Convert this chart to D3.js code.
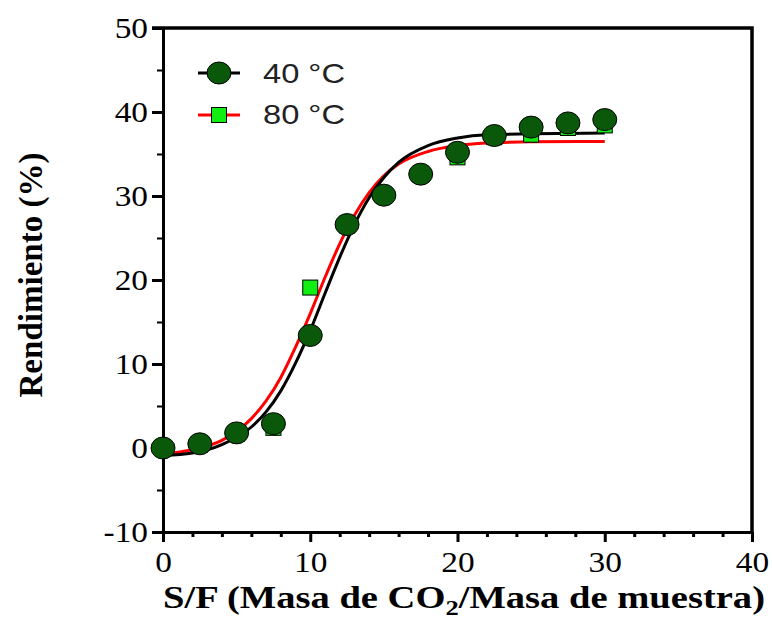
<!DOCTYPE html>
<html>
<head>
<meta charset="utf-8">
<script src="https://cdn.jsdelivr.net/npm/d3@7"></script>
<style>
  body { margin: 0; background: #fff; }
  .axis path, .axis line { stroke: #000; }
</style>
</head>
<body>
<div id="chart"></div>
<script>
// measured points (S/F, yield %)
let sfValues = [0, 2.5, 5, 7.5, 10, 12.5, 15, 17.5, 20, 22.5, 25, 27.5, 30];
let yield40 = [0, 0.5, 1.8, 2.9, 13.4, 26.6, 30.1, 32.6, 35.2, 37.2, 38.2, 38.7, 39.1];
let yield80 = [0, 0.4, 1.7, 2.4, 19.1, 26.5, 30.0, 32.5, 34.6, 37.0, 37.3, 38.1, 38.4];

// fitted curves
let fitX = [0, 2, 4, 6, 7, 8, 9, 10, 11, 12, 13, 14, 15, 16, 18, 20, 22, 25, 30];
let fit40 = [-0.9, -0.6, 0.4, 2.5, 4.3, 6.8, 10.1, 14.0, 18.4, 22.7, 26.6, 29.8, 32.2, 34.0, 36.0, 36.9, 37.3, 37.4, 37.5];
let fit80 = [-0.7, -0.2, 0.9, 3.5, 5.6, 8.4, 12.0, 16.0, 20.3, 24.3, 27.7, 30.4, 32.4, 33.8, 35.3, 36.0, 36.3, 36.45, 36.5];

let xTicks = [0, 10, 20, 30, 40];
let yTicks = [-10, 0, 10, 20, 30, 40, 50];
let seriesNames = ["40 °C", "80 °C"];

let width = 772;
let height = 624;
let padLeft = 163, padRight = 752, padTop = 28, padBottom = 532;
let serif = "'Liberation Serif', 'Times New Roman', serif";

let svg = d3.select("#chart").append("svg")
    .attr("width", width)
    .attr("height", height);

let xScale = d3.scaleLinear().domain([0, 40]).range([padLeft, padRight]);
let yScale = d3.scaleLinear().domain([-10, 50]).range([padBottom, padTop]);

// frame top / right
svg.append("path")
    .attr("d", `M${padLeft - 11},${padTop} H${padRight} V${padBottom}`)
    .attr("fill", "none")
    .attr("stroke", "#000")
    .attr("stroke-width", 3.5);

// minor ticks
let xMinor = d3.range(2, 40, 2).filter(v => v % 10 != 0);
let yMinor = d3.range(-5, 50, 10);

svg.append("g")
    .attr("class", "axis")
    .attr("transform", `translate(0,${padBottom})`)
    .call(d3.axisBottom(xScale).tickValues(xMinor).tickSize(5).tickFormat(""))
    .call(g => g.selectAll("line").attr("stroke-width", 3))
    .call(g => g.select(".domain").remove());

svg.append("g")
    .attr("class", "axis")
    .attr("transform", `translate(${padLeft},0)`)
    .call(d3.axisLeft(yScale).tickValues(yMinor).tickSize(6).tickFormat(""))
    .call(g => g.selectAll("line").attr("stroke-width", 2))
    .call(g => g.select(".domain").remove());

// major axes
let fmt = d => String(d);
function styleLabels(g) {
    g.selectAll("text")
        .attr("font-family", serif)
        .attr("font-size", "29px")
        .attr("fill", "#000")
        .each(function() {
            let w = this.getComputedTextLength();
            d3.select(this).attr("textLength", w * 1.15).attr("lengthAdjust", "spacingAndGlyphs");
        });
}

svg.append("g")
    .attr("class", "axis")
    .attr("transform", `translate(0,${padBottom})`)
    .call(d3.axisBottom(xScale).tickValues(xTicks).tickSize(10).tickSizeOuter(0).tickPadding(9).tickFormat(fmt))
    .call(g => g.selectAll("line").attr("stroke-width", 3))
    .call(g => g.select(".domain").attr("stroke-width", 3))
    .call(styleLabels);

svg.append("g")
    .attr("class", "axis")
    .attr("transform", `translate(${padLeft},0)`)
    .call(d3.axisLeft(yScale).tickValues(yTicks).tickSize(11).tickSizeOuter(0).tickPadding(4).tickFormat(fmt))
    .call(g => g.selectAll("line").attr("stroke-width", 3))
    .call(g => g.select(".domain").attr("stroke-width", 3))
    .call(g => g.selectAll("text").attr("dy", "0.33em"))
    .call(styleLabels);

// fit lines
let line = d3.line()
    .x(d => xScale(d[0]))
    .y(d => yScale(d[1]))
    .curve(d3.curveMonotoneX);

svg.append("path")
    .datum(fitX.map((x, i) => [x, fit80[i]]))
    .attr("d", line)
    .attr("fill", "none")
    .attr("stroke", "#ff0000")
    .attr("stroke-width", 3);

svg.append("path")
    .datum(fitX.map((x, i) => [x, fit40[i]]))
    .attr("d", line)
    .attr("fill", "none")
    .attr("stroke", "#000")
    .attr("stroke-width", 3);

// squares (80 C)
svg.selectAll(".sq")
    .data(sfValues.map((x, i) => [x, yield80[i]]))
    .enter()
    .append("rect")
    .attr("class", "sq")
    .attr("x", d => xScale(d[0]) - 7.5)
    .attr("y", d => yScale(d[1]) - 7.5)
    .attr("width", 15)
    .attr("height", 15)
    .attr("fill", "#11ee11")
    .attr("stroke", "#000")
    .attr("stroke-width", 1);

// circles (40 C)
svg.selectAll(".dot")
    .data(sfValues.map((x, i) => [x, yield40[i]]))
    .enter()
    .append("ellipse")
    .attr("class", "dot")
    .attr("cx", d => xScale(d[0]))
    .attr("cy", d => yScale(d[1]))
    .attr("rx", 12)
    .attr("ry", 11)
    .attr("fill", "#0a580a")
    .attr("stroke", "#000")
    .attr("stroke-width", 1);

// legend
let legend = svg.append("g");
legend.append("line").attr("x1", 198).attr("x2", 240).attr("y1", 73).attr("y2", 73)
    .attr("stroke", "#000").attr("stroke-width", 3);
legend.append("ellipse").attr("cx", 219).attr("cy", 73).attr("rx", 12).attr("ry", 11)
    .attr("fill", "#0a580a").attr("stroke", "#000");
legend.append("line").attr("x1", 198).attr("x2", 240).attr("y1", 115).attr("y2", 115)
    .attr("stroke", "#ff0000").attr("stroke-width", 3);
legend.append("rect").attr("x", 211.5).attr("y", 107.5).attr("width", 15).attr("height", 15)
    .attr("fill", "#11ee11").attr("stroke", "#000");
legend.selectAll(".lab")
    .data(seriesNames)
    .enter()
    .append("text")
    .attr("x", 263)
    .attr("y", (d, i) => 83 + i * 41)
    .attr("font-family", "'Liberation Sans', Arial, sans-serif")
    .attr("font-size", "28px")
    .attr("textLength", 82)
    .attr("lengthAdjust", "spacingAndGlyphs")
    .attr("fill", "#222")
    .text(d => d);

// axis titles
let xTitle = svg.append("text")
    .attr("x", 163)
    .attr("y", 608)
    .attr("font-family", serif)
    .attr("font-weight", "bold")
    .attr("font-size", "32px")
    .attr("textLength", 602)
    .attr("lengthAdjust", "spacingAndGlyphs");
xTitle.append("tspan").text("S/F (Masa de CO");
xTitle.append("tspan").text("2").attr("font-size", "22px").attr("dy", 7);
xTitle.append("tspan").text("/Masa de muestra)").attr("dy", -7);

svg.append("text")
    .text("Rendimiento (%)")
    .attr("text-anchor", "middle")
    .attr("font-family", serif)
    .attr("font-weight", "bold")
    .attr("font-size", "33px")
    .attr("textLength", 245)
    .attr("lengthAdjust", "spacingAndGlyphs")
    .attr("transform", "translate(42,275) rotate(-90)");
</script>
</body>
</html>
